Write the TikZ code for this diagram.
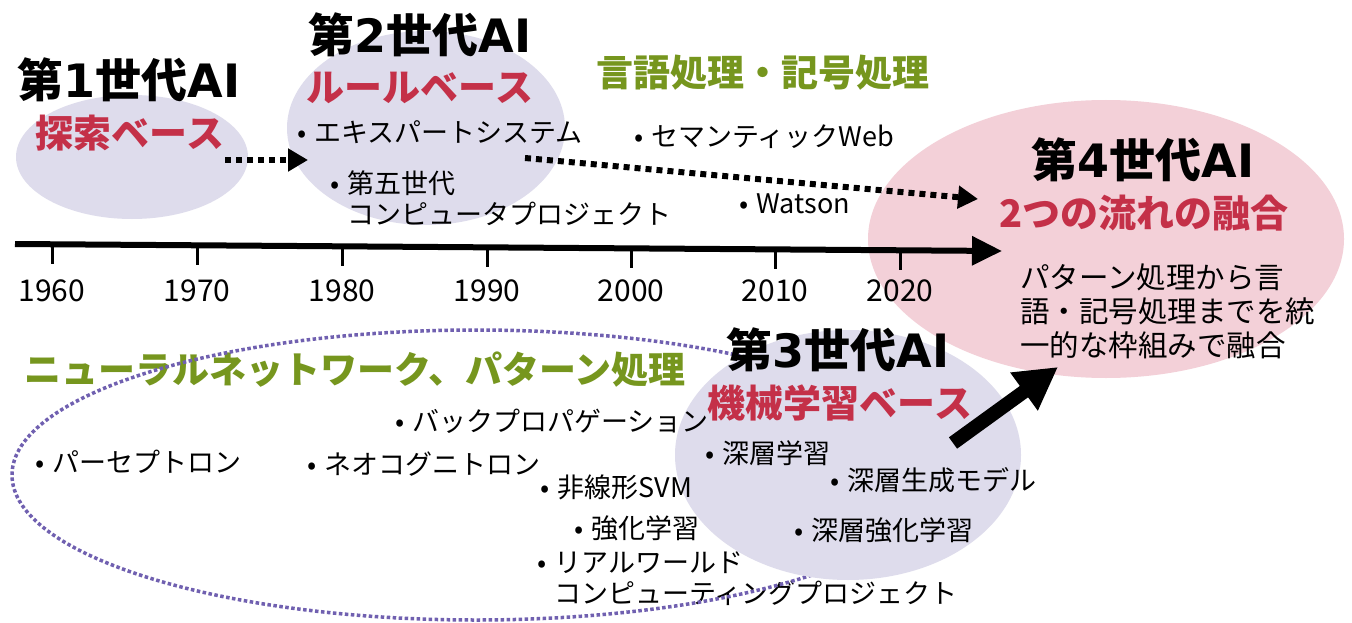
\documentclass[tikz,border=0pt]{standalone}
\usepackage{fontspec}
\setmainfont{Noto Sans CJK JP}
\newfontfamily\latinwide{DejaVu Sans}
\usetikzlibrary{arrows.meta,shapes.geometric}
\definecolor{lav}{RGB}{222,220,236}
\definecolor{pinkbg}{RGB}{243,208,216}
\definecolor{ared}{RGB}{196,48,72}
\definecolor{agreen}{RGB}{118,150,30}
\definecolor{apurple}{RGB}{112,96,176}
\newcommand\mybul{•\hspace{0.3em}}
\newcommand\mybulsp{\hphantom{\mybul}}
\newcommand\lw[1]{{\latinwide\bfseries #1}}
\begin{document}
\begin{tikzpicture}[x=1pt,y=-1pt,
  blob/.style={ellipse, inner sep=0pt, draw=none},
  gtitle/.style={font=\bfseries\fontsize{46}{50}\selectfont, inner sep=0pt},
  gsub/.style={font=\bfseries\fontsize{38}{42}\selectfont, text=ared, inner sep=0pt},
  ghead/.style={font=\bfseries\fontsize{37}{40}\selectfont, text=agreen, inner sep=0pt},
  item/.style={font=\fontsize{27}{31}\selectfont, anchor=west, inner sep=0pt, align=left},
  body/.style={font=\fontsize{29.5}{34}\selectfont, anchor=north west, inner sep=0pt, align=left},
  year/.style={font=\fontsize{30}{32}\selectfont, inner sep=0pt},
  tickline/.style={line width=3pt},
  dotarrow/.style={line width=6pt, dash pattern=on 6pt off 5pt, -{Triangle[length=20pt,width=22pt]}},
  bigarrow/.style={line width=14pt, -{Triangle[length=42pt,width=44pt]}},
  nnring/.style={draw=apurple, line width=3.5pt, dash pattern=on 3.5pt off 2.5pt, ellipse, inner sep=0pt}
]
\useasboundingbox (0,0) rectangle (1352,623);
\fill[white] (0,0) rectangle (1352,623);

% background ellipses
\node[blob, fill=pinkbg, minimum width=476pt, minimum height=278pt] (g4) at (1106,239) {};
\node[blob, fill=lav, minimum width=232pt, minimum height=124pt] (g1) at (132,157) {};
\node[blob, fill=lav, minimum width=278pt, minimum height=194pt] (g2) at (426,128) {};
\node[blob, fill=lav, minimum width=346pt, minimum height=250pt] (g3) at (848,455) {};

% timeline
\coordinate (tlS) at (15,244);
\coordinate (tlE) at (1002,251);
\draw[line width=6pt, -{Triangle[length=30pt,width=28pt]}] (tlS) -- (tlE);
\foreach \x/\yr in {52/1960,197/1970,342/1980,487/1990,631/2000,775/2010,900/2020}{
  \coordinate (k\yr) at (\x,{244+7*(\x-15)/987});
  \draw[tickline] (k\yr) -- ++(0,20);
  \node[year] (y\yr) at (\x,291) {\yr};
}

% top texts
\node[gtitle] (t1) at (129,80) {第\lw{1}世代\lw{AI}};
\node[gsub] (s1) at (130,133) {探索ベース};
\node[gtitle] (t2) at (420,35) {第\lw{2}世代\lw{AI}};
\node[gsub] (s2) at (420,88) {ルールベース};
\node[ghead] (h1) at (763,73) {言語処理・記号処理};
\node[item] (i1) at (297,132) {\mybul エキスパートシステム};
\node[item, anchor=north west] (i2) at (330,170) {\mybul 第五世代\\\mybulsp コンピュータプロジェクト};
\node[item] (i3) at (634,137) {\mybul セマンティックWeb};
\node[item] (i4) at (739,204) {\mybul Watson};

\node[gtitle] (t4) at (1143,160) {第\lw{4}世代\lw{AI}};
\node[gsub] (s4) at (1144,213) {2つの流れの融合};
\node[body] (b4) at (1020,264) {パターン処理から言\\語・記号処理までを統\\一的な枠組みで融合};

% dotted arrows
\coordinate (d1s) at (225,160);
\coordinate (d1e) at (308,160);
\draw[dotarrow] (d1s) -- (d1e);
\coordinate (d2s) at (525,158);
\coordinate (d2e) at (978,199);
\draw[dotarrow] (d2s) -- (d2e);

% bottom texts
\node[ghead] (h2) at (355,370) {ニューラルネットワーク、パターン処理};
\node[item] (n1) at (35,462) {\mybul パーセプトロン};
\node[item] (n2) at (307,464) {\mybul ネオコグニトロン};
\node[item] (n3) at (395,421) {\mybul バックプロパゲーション};
\node[item] (n4) at (540,487) {\mybul 非線形SVM};
\node[item] (n5) at (574,528) {\mybul 強化学習};
\node[item, anchor=north west] (n6) at (537,552) {\mybul リアルワールド\\\mybulsp コンピューティングプロジェクト};

% neural network dotted ring (hidden behind the third-generation ellipse)
\begin{scope}[even odd rule]
  \clip (0,0) rectangle (1352,623) (848,455) ellipse [x radius=173, y radius=125];
  \node[nnring, minimum width=928pt, minimum height=290pt] (nn) at (476,475) {};
\end{scope}

% third generation
\node[gtitle] (t3) at (838,350) {第\lw{3}世代\lw{AI}};
\node[gsub] (s3) at (840,403) {機械学習ベース};
\node[item] (m1) at (705,453) {\mybul 深層学習};
\node[item] (m2) at (830,480) {\mybul 深層生成モデル};
\node[item] (m3) at (794,530) {\mybul 深層強化学習};

% big arrow
\coordinate (bas) at (953,443);
\coordinate (bae) at (1058,367);
\draw[bigarrow] (bas) -- (bae);
\end{tikzpicture}
\end{document}
